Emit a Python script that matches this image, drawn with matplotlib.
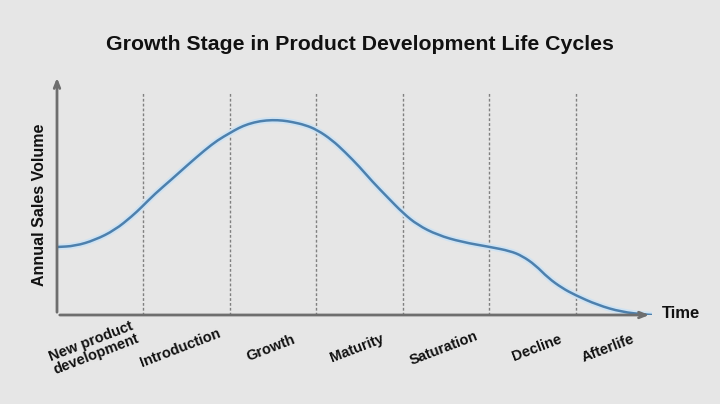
import matplotlib
matplotlib.use('Agg')
import matplotlib.pyplot as plt
from matplotlib.path import Path
from matplotlib.patches import PathPatch

# --- data (x in stage widths, y in arbitrary volume units) ---
stages = ["New product\ndevelopment", "Introduction", "Growth", "Maturity",
          "Saturation", "Decline", "Afterlife"]
label_pos = [0.42, 1.42, 2.47, 3.47, 4.47, 5.55, 6.37]
boundaries = [1, 2, 3, 4, 5, 6]

curve_x = [0.0, 0.21, 0.44, 0.67, 0.87, 0.98, 1.13, 1.33, 1.51, 1.71, 1.86,
           2.0, 2.10, 2.21, 2.35, 2.49, 2.61, 2.72, 2.87, 3.01, 3.18, 3.33,
           3.50, 3.64, 3.83, 4.0, 4.17, 4.40, 4.68, 5.01, 5.24, 5.38, 5.53,
           5.68, 5.84, 5.99, 6.25, 6.53, 6.80, 6.88]
curve_y = [68, 69, 75, 85, 99, 108, 121, 136, 150, 165, 175, 182, 187, 191,
           194, 195, 194.5, 193, 190, 185, 175, 163, 148, 134, 117, 102, 90,
           80, 73, 68, 64, 59, 50, 37, 27, 20, 10, 3, 0.5, 0]

BG = '#e6e6e6'
AXC = '#6e6e6e'
FONT = 'Liberation Sans'


def smooth_path(xs, ys):
    # quadratic bezier through midpoints, the read points act as control points
    pts = list(zip(xs, ys))
    verts = [pts[0]]
    codes = [Path.MOVETO]
    mid = lambda a, b: ((a[0] + b[0]) / 2, (a[1] + b[1]) / 2)
    verts.append(mid(pts[0], pts[1])); codes.append(Path.LINETO)
    for i in range(1, len(pts) - 1):
        verts += [pts[i], mid(pts[i], pts[i + 1])]
        codes += [Path.CURVE3, Path.CURVE3]
    verts.append(pts[-1]); codes.append(Path.LINETO)
    return Path(verts, codes)


fig = plt.figure(figsize=(7.2, 4.04), dpi=100, facecolor=BG)
ax = fig.add_axes([57/720, 89/404, 595/720, 240/404])
ax.set_facecolor(BG)
ax.set_xlim(0, 6.88)
ax.set_ylim(0, 240)
for s in ax.spines.values():
    s.set_visible(False)
ax.set_xticks([])
ax.set_yticks([])

# stage separators
for b in boundaries:
    ax.plot([b, b], [0, 222], color='#808080', lw=1, ls=(0, (2, 1.5)), zorder=1)

# curve with a faint halo
path = smooth_path(curve_x, curve_y)
ax.add_patch(PathPatch(path, fill=False, edgecolor='#cfe3f3', lw=4.5,
                       capstyle='round', zorder=2))
ax.add_patch(PathPatch(path, fill=False, edgecolor='#4d80ad', lw=1.8, zorder=3))

# axes with arrow heads
arr = dict(arrowstyle='->,head_length=0.5,head_width=0.2', color=AXC, lw=2)
ax.annotate('', xy=(1.0, 0), xytext=(0, 0), xycoords='axes fraction',
            arrowprops=arr, annotation_clip=False)
ax.annotate('', xy=(0, 1.0), xytext=(0, 0), xycoords='axes fraction',
            arrowprops=arr, annotation_clip=False)

# stage labels
for name, xp in zip(stages, label_pos):
    ax.text(xp, -33, name, rotation=21, ha='center', va='center',
            fontsize=10.5, fontweight='bold', family=FONT, color='#111111',
            linespacing=1.0, rotation_mode='anchor')

fig.text(662/720, 1 - 314/404, 'Time', ha='left', va='center', fontsize=12,
         fontweight='bold', family=FONT, color='#111111')
fig.text(40/720, 1 - 205/404, 'Annual Sales Volume', rotation=90, ha='center',
         va='center', fontsize=11.5, fontweight='bold', family=FONT, color='#111111')
fig.text(0.5, 1 - 45/404, 'Growth Stage in Product Development Life Cycles',
         ha='center', va='center', fontsize=15.3, fontweight='bold', family=FONT,
         color='#111111')

fig.savefig('out.png', dpi=100, facecolor=BG)
